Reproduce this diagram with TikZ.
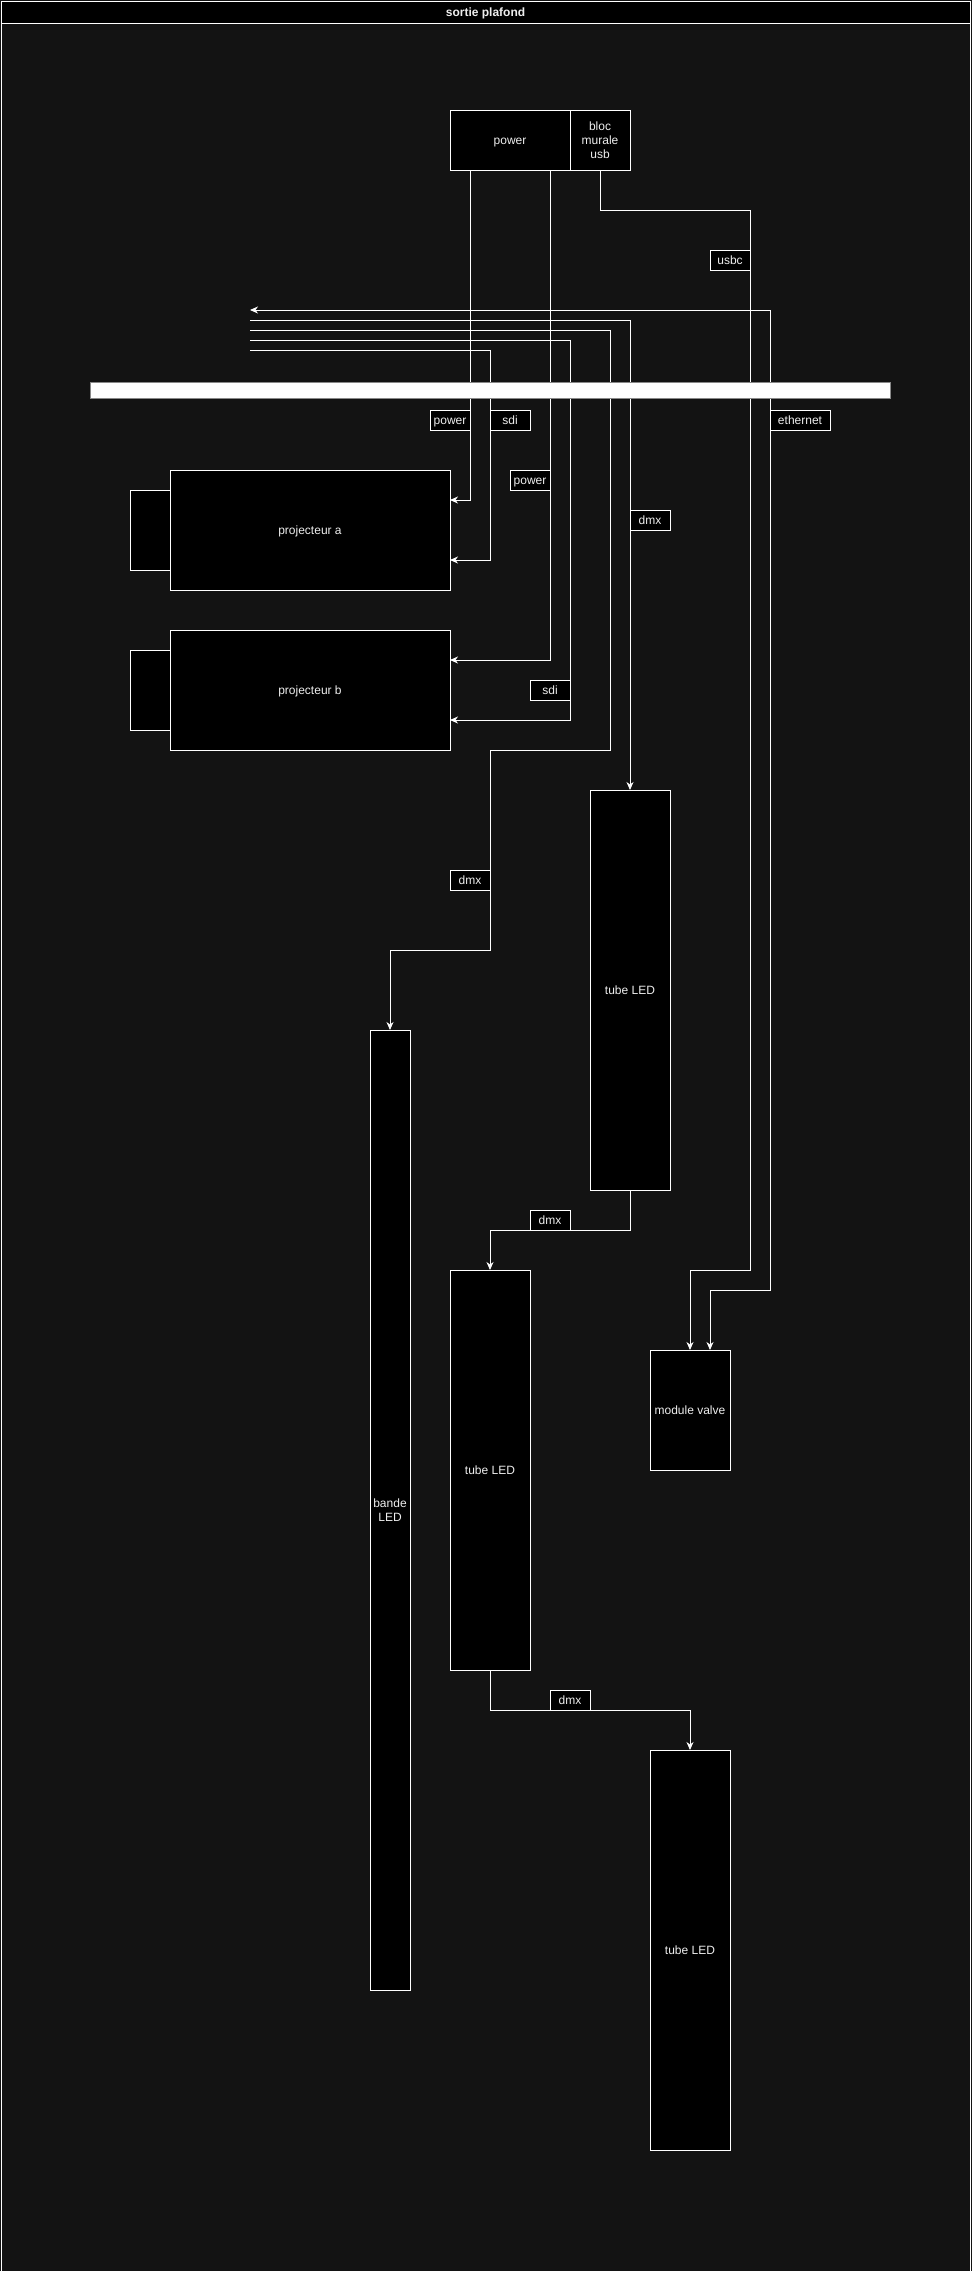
\documentclass[tikz,border=0pt]{standalone}
\usepackage{fontspec}
\setmainfont{Liberation Sans}
\usetikzlibrary{arrows.meta}
\definecolor{bgc}{HTML}{131313}
\definecolor{txtc}{HTML}{EEEEEE}
\definecolor{barborder}{HTML}{888888}
\tikzset{
  box/.style={draw=white, fill=black, line width=1pt, inner sep=0pt, outer sep=0pt,
    text=txtc, font=\fontsize{12}{14}\selectfont, align=center,
    text height=10.9pt, text depth=2.5pt},
  multibox/.style={box, text height={}, text depth={}},
  lbl/.style={box, minimum width=40pt, minimum height=20pt},
  conn/.style={draw=white, line width=1pt, -{Stealth[length=8pt,width=7pt,inset=2.5pt]}},
}
\begin{document}
\begin{tikzpicture}[x=1pt,y=-1pt]
\useasboundingbox (0,0) rectangle (972,2271);
\fill[bgc] (0,0) rectangle (972,2271);
% frame
\draw[white, line width=1pt] (1,1) rectangle (970,2275);
\node[box, minimum width=969pt, minimum height=22pt, font=\bfseries\fontsize{12}{14}\selectfont] (title) at (485.5,12) {sortie plafond};

% boxes
\node[box, minimum width=120pt, minimum height=60pt] (power) at (510,140) {power};
\node[multibox, minimum width=60pt, minimum height=60pt] (bloc) at (600,140) {bloc\\murale\\usb};
\node[box, minimum width=40pt, minimum height=80pt] (sideA) at (150,530) {};
\node[box, minimum width=280pt, minimum height=120pt] (projA) at (310,530) {projecteur a};
\node[box, minimum width=40pt, minimum height=80pt] (sideB) at (150,690) {};
\node[box, minimum width=280pt, minimum height=120pt] (projB) at (310,690) {projecteur b};
\node[box, minimum width=80pt, minimum height=400pt] (tube1) at (630,990) {tube LED};
\node[multibox, minimum width=40pt, minimum height=960pt] (bande) at (390,1510) {bande\\LED};
\node[box, minimum width=80pt, minimum height=400pt] (tube2) at (490,1470) {tube LED};
\node[box, minimum width=80pt, minimum height=120pt] (valve) at (690,1410) {module valve};
\node[box, minimum width=80pt, minimum height=400pt] (tube3) at (690,1950) {tube LED};

% free ends
\coordinate (eth0) at (250,310);
\coordinate (w1) at (250,320);
\coordinate (w2) at (250,330);
\coordinate (w3) at (250,340);
\coordinate (w4) at (250,350);

% connectors
\draw[conn] ([xshift=-40pt]power.south) |- ([yshift=30pt]projA.east);
\draw[conn] ([xshift=40pt]power.south) |- ([yshift=30pt]projB.east);
\draw[conn] (bloc.south) -- (600,210) -- (750,210) -- (750,1270) -| (valve.north);
\draw[draw=white, line width=1pt, {Stealth[length=8pt,width=7pt,inset=2.5pt]}-{Stealth[length=8pt,width=7pt,inset=2.5pt]}]
  (eth0) -- (770,310) -- (770,1290) -| ([xshift=20pt]valve.north);
\draw[conn] (w1) -| (tube1.north);
\draw[conn] (w2) -| (610,750) -- (490,750) -- (490,950) -| (bande.north);
\draw[conn] (w3) -| (570,720) -- ([yshift=-30pt]projB.east);
\draw[conn] (w4) -| (490,560) -- ([yshift=-30pt]projA.east);
\draw[conn] (tube1.south) -- ++(0,40) -| (tube2.north);
\draw[conn] (tube2.south) -- ++(0,40) -| (tube3.north);

% ceiling bar
\node[draw=barborder, fill=white, line width=1pt, minimum width=800pt, minimum height=16pt, inner sep=0pt] (bar) at (490,390) {};

% labels
\node[lbl] (lpower1) at (450,420) {power};
\node[lbl] (lsdi1) at (510,420) {sdi};
\node[lbl, minimum width=60pt] (leth) at (800,420) {ethernet};
\node[lbl] (lusbc) at (730,260) {usbc};
\node[lbl] (lpower2) at (530,480) {power};
\node[lbl] (ldmx1) at (650,520) {dmx};
\node[lbl] (lsdi2) at (550,690) {sdi};
\node[lbl] (ldmx2) at (470,880) {dmx};
\node[lbl] (ldmx3) at (550,1220) {dmx};
\node[lbl] (ldmx4) at (570,1700) {dmx};
\end{tikzpicture}
\end{document}
